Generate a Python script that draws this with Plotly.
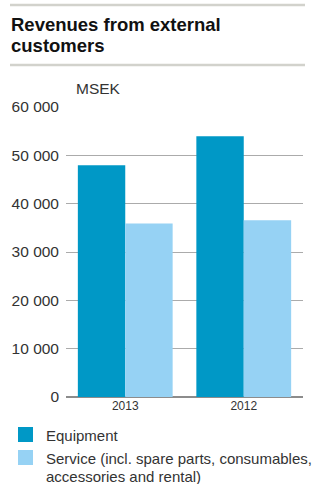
import plotly.graph_objects as go

# data (MSEK)
years = ['2013', '2012']
equipment = [47950, 53950]
service = [35900, 36550]
series_names = ['Equipment', 'Service (incl. spare parts, consumables, accessories and rental)']
legend_lines = [['Equipment'], ['Service (incl. spare parts, consumables,', 'accessories and rental)']]
y_ticks = [0, 10000, 20000, 30000, 40000, 50000, 60000]
colors = ['#0098c6', '#96d2f4']

W, H = 328, 484
L, R, T, B = 66, 25, 107, 87
PW, PH = W - L - R, H - T - B


def px(x):
    return (x - L) / PW


def py(y):
    return (H - B - y) / PH


FONT = 'Liberation Sans, Arial, sans-serif'

fig = go.Figure()
fig.add_trace(go.Bar(x=years, y=equipment, name=series_names[0],
                     marker=dict(color=colors[0], line=dict(width=0))))
fig.add_trace(go.Bar(x=years, y=service, name=series_names[1],
                     marker=dict(color=colors[1], line=dict(width=0))))

fig.update_layout(
    width=W, height=H,
    margin=dict(l=L, r=R, t=T, b=B, autoexpand=False),
    paper_bgcolor='white',
    plot_bgcolor='white',
    barmode='group',
    bargap=0.2,
    bargroupgap=0,
    separators='. ',
    font=dict(family=FONT, color='#333'),
    showlegend=False,
    xaxis=dict(
        showgrid=False,
        ticks='',
        tickfont=dict(size=12, color='#333'),
        showline=False,
        range=[-0.5, 1.5],
    ),
    yaxis=dict(
        range=[0, 60000],
        tickvals=y_ticks,
        tickformat=',d',
        tickfont=dict(size=15.5, color='#333'),
        showgrid=True,
        gridcolor='#ababab',
        gridwidth=1,
        zeroline=True,
        zerolinecolor='#8c8c8c',
        zerolinewidth=1.5,
        ticks='',
        ticklabelstandoff=6,
    ),
)

# header rules
for yy in (5, 65):
    fig.add_shape(type='line', xref='paper', yref='paper',
                  x0=px(10), x1=px(305), y0=py(yy), y1=py(yy),
                  line=dict(color='#d2d2cc', width=2.5))

# title
fig.add_annotation(text='<b>Revenues from external</b>', xref='paper', yref='paper',
                   x=px(9), y=py(24), xanchor='left', yanchor='middle',
                   showarrow=False, font=dict(size=18.5, color='#111'))
fig.add_annotation(text='<b>customers</b>', xref='paper', yref='paper',
                   x=px(9), y=py(45), xanchor='left', yanchor='middle',
                   showarrow=False, font=dict(size=18.5, color='#111'))

# unit label
fig.add_annotation(text='MSEK', xref='paper', yref='paper',
                   x=px(74), y=py(88), xanchor='left', yanchor='middle',
                   showarrow=False, font=dict(size=15.5, color='#333'))

# legend drawn by hand: square keys + text lines
key_top = [427, 450]
for i, lines in enumerate(legend_lines):
    y0 = key_top[i]
    fig.add_shape(type='rect', xref='paper', yref='paper',
                  x0=px(18), x1=px(33), y0=py(y0), y1=py(y0 + 15),
                  fillcolor=colors[i], line=dict(width=0))
    for j, txt in enumerate(lines):
        fig.add_annotation(text=txt, xref='paper', yref='paper',
                           x=px(44), y=py(y0 + 8 + j * 18), xanchor='left', yanchor='middle',
                           showarrow=False, font=dict(size=15, color='#333'))

# page has a default body margin; drop it so the figure sits at 0,0
fig.write_html('out.html', config={'displayModeBar': False},
               post_script="document.body.style.margin='0';")
